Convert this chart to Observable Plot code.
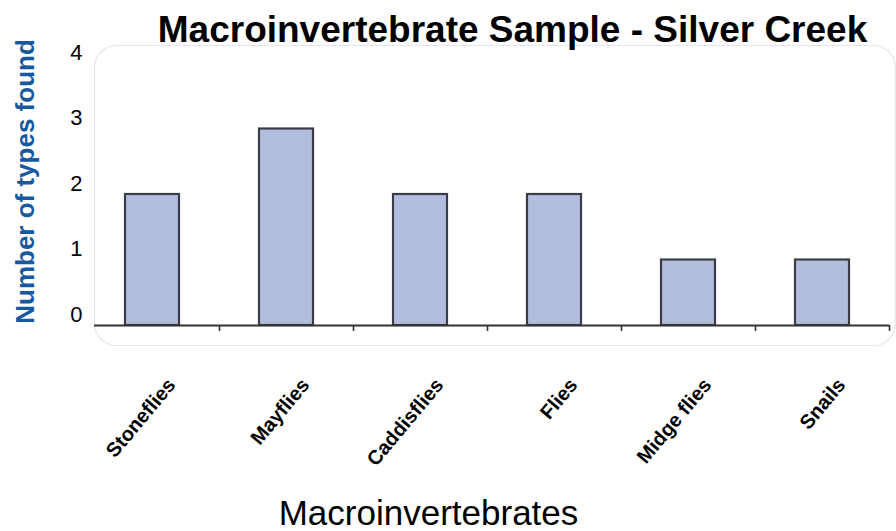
<!DOCTYPE html>
<html>
<head>
<meta charset="utf-8">
<script src="https://cdn.jsdelivr.net/npm/d3@7"></script>
<script src="https://cdn.jsdelivr.net/npm/@observablehq/plot@0.6"></script>
<style>
  html, body { margin: 0; padding: 0; background: #fff; }
  #chart svg { overflow: visible; display: block; }
</style>
</head>
<body>
<div id="chart"></div>
<script>
const title = "Macroinvertebrate Sample - Silver Creek";
const categories = ["Stoneflies", "Mayflies", "Caddisflies", "Flies", "Midge flies", "Snails"];
const counts = [2, 3, 2, 2, 1, 1];
const yTicks = [0, 1, 2, 3, 4];
const xLabel = "Macroinvertebrates";
const yLabel = "Number of types found";

const data = categories.map((name, i) => ({name, i, count: counts[i]}));
const boundaries = categories.map((_, i) => i + 1);
const font = "'Liberation Sans', Arial, Helvetica, sans-serif";

const chart = Plot.plot({
  width: 896,
  height: 531,
  marginLeft: 85,
  marginRight: 7,
  marginTop: 63,
  marginBottom: 206,
  style: {fontFamily: font, background: "white", color: "#000"},
  x: {type: "linear", domain: [0, categories.length]},
  y: {domain: [0, 4], axis: null},
  marks: [
    Plot.frame({rx: 22, stroke: "#e4e4ee", strokeWidth: 1.2, fill: "none",
      insetLeft: 9, insetRight: -6, insetTop: -18, insetBottom: -20}),
    Plot.rectY(data, {
      x1: d => d.i, x2: d => d.i + 1, y1: 0, y2: "count",
      insetLeft: 40, insetRight: 40,
      fill: "#b3bedf", stroke: "#3c3c46", strokeWidth: 2.2
    }),
    Plot.ruleY([0], {stroke: "#333", strokeWidth: 2, insetLeft: 9}),
    Plot.axisX({ticks: boundaries, tickSize: 6, tickFormat: () => "", label: null,
      stroke: "#333", strokeWidth: 1.6}),
    Plot.text(yTicks, {y: d => d, text: d => String(d), frameAnchor: "left",
      textAnchor: "end", lineAnchor: "middle", dx: -3, dy: -11,
      fontSize: 22, fill: "#000"}),
    Plot.text(data, {
      x: d => d.i + 0.5, y: 0, text: "name",
      rotate: -50, textAnchor: "end", lineAnchor: "bottom",
      dx: 24, dy: 60, fontSize: 20, fontWeight: "bold", fill: "#000"
    }),
    Plot.text([title], {frameAnchor: "top", text: d => d, dx: 25, dy: -22,
      lineAnchor: "bottom", fontSize: 37, fontWeight: "bold", fill: "#000"}),
    Plot.text([xLabel], {frameAnchor: "bottom", text: d => d, dx: -59, dy: 199,
      textAnchor: "middle", lineAnchor: "bottom", fontSize: 35, fill: "#000"}),
    Plot.text([yLabel], {frameAnchor: "left", text: d => d, dx: -60, dy: -13,
      rotate: -90, textAnchor: "middle", lineAnchor: "middle",
      fontSize: 26, fontWeight: "bold", fill: "#17599f"})
  ]
});
document.getElementById("chart").appendChild(chart);
</script>
</body>
</html>
